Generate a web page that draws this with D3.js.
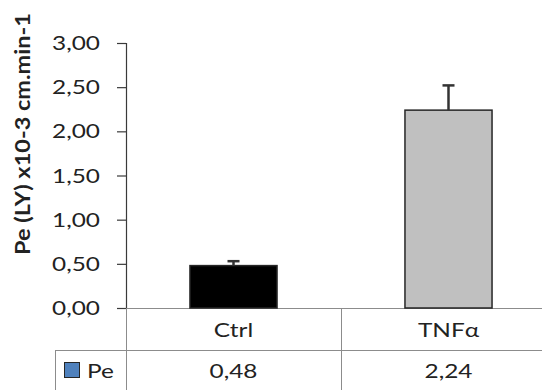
<!DOCTYPE html>
<html>
<head>
<meta charset="utf-8">
<script src="https://cdn.jsdelivr.net/npm/d3@7"></script>
<style>
  html, body { margin: 0; padding: 0; background: #fff; }
  svg { display: block; }
  text { font-family: Lato, "Open Sans", sans-serif; fill: #222; }
</style>
</head>
<body>
<svg id="chart" width="542" height="390"></svg>
<script>
// Permeability (Lucifer Yellow) per condition
const categories = ["Ctrl", "TNFα"];
const values = [0.48, 2.24];
const errors = [0.05, 0.28];
const seriesName = "Pe";
const yTicks = [0, 0.5, 1, 1.5, 2, 2.5, 3];
const yLabel = "Pe (LY) x10-3 cm.min-1";

const svg = d3.select("#chart");
const W = 542, H = 390;

// layout
const plotLeft = 126, cellW = 215, plotTop = 43, base = 308;
const rowTop = 350, tableLeft = 55, tableBottom = 390;
const sx = 1.22; // horizontal text stretch
const fs = 20;

const locale = d3.formatLocale({ decimal: ",", thousands: ".", grouping: [3], currency: ["", ""] });
const fmt = locale.format(".2f");

const x = d3.scaleBand().domain(categories).range([plotLeft, plotLeft + cellW * categories.length]);
const y = d3.scaleLinear().domain([0, 3]).range([base, plotTop]);

const barW = x.bandwidth() * 0.405;

function stretchedText(g, tx, ty, str, anchor, size, weight) {
  return g.append("text")
    .attr("transform", `translate(${tx},${ty}) scale(${sx},1)`)
    .attr("text-anchor", anchor)
    .attr("font-size", size)
    .attr("font-weight", weight || "normal")
    .text(str);
}

// table grid
const grid = svg.append("g").attr("stroke", "#8c8c8c").attr("stroke-width", 1).attr("shape-rendering", "crispEdges");
grid.append("line").attr("x1", plotLeft).attr("x2", W).attr("y1", base + 0.5).attr("y2", base + 0.5);
grid.append("line").attr("x1", tableLeft).attr("x2", W).attr("y1", rowTop + 0.5).attr("y2", rowTop + 0.5);
grid.append("line").attr("x1", tableLeft + 0.5).attr("x2", tableLeft + 0.5).attr("y1", rowTop).attr("y2", tableBottom);
[plotLeft].concat(categories.map(c => x(c) + x.bandwidth())).forEach(px => {
  grid.append("line").attr("x1", Math.round(px) + 0.5).attr("x2", Math.round(px) + 0.5)
    .attr("y1", base).attr("y2", tableBottom);
});

// bars
const barFill = ["#000000", "#c0c0c0"];
svg.append("g").selectAll("rect").data(values).join("rect")
  .attr("x", (d, i) => x(categories[i]) + (x.bandwidth() - barW) / 2)
  .attr("y", d => y(d))
  .attr("width", barW)
  .attr("height", d => base - y(d))
  .attr("fill", (d, i) => barFill[i])
  .attr("stroke", "#262626")
  .attr("stroke-width", 1.5);

// error bars (upper only)
const eb = svg.append("g").attr("stroke", "#333").attr("stroke-width", 2.5);
values.forEach((v, i) => {
  const cx = x(categories[i]) + x.bandwidth() / 2;
  eb.append("line").attr("x1", cx).attr("x2", cx).attr("y1", y(v)).attr("y2", y(v + errors[i]));
  eb.append("line").attr("x1", cx - 6).attr("x2", cx + 6).attr("y1", y(v + errors[i])).attr("y2", y(v + errors[i]));
});

// y axis
const axis = svg.append("g").attr("transform", `translate(${plotLeft},0)`)
  .call(d3.axisLeft(y).tickValues(yTicks).tickSize(9).tickSizeOuter(0).tickFormat(() => ""));
axis.selectAll("path, line").attr("stroke", "#3a3a3a").attr("stroke-width", 1.2);
axis.select(".domain").attr("d", `M0.5,${plotTop}V${base}`);
const tickLabels = svg.append("g");
yTicks.forEach(t => stretchedText(tickLabels, 100, y(t) + 7, fmt(t), "end", fs));

// y label
svg.append("text")
  .attr("transform", `translate(30,${(10 + 258) / 2}) rotate(-90) scale(1.12,1)`)
  .attr("text-anchor", "middle")
  .attr("font-size", 21)
  .attr("font-weight", "bold")
  .text(yLabel);

// category row
const catRow = svg.append("g");
categories.forEach(c => stretchedText(catRow, x(c) + x.bandwidth() / 2, 337, c, "middle", fs));

// value row
const valRow = svg.append("g");
svg.append("rect").attr("x", 64.5).attr("y", 362.5).attr("width", 15).attr("height", 15)
  .attr("fill", "#4f81bd").attr("stroke", "#262626").attr("stroke-width", 1);
stretchedText(valRow, 87, 378, seriesName, "start", fs);
values.forEach((v, i) => stretchedText(valRow, x(categories[i]) + x.bandwidth() / 2, 378, fmt(v), "middle", fs));
</script>
</body>
</html>
